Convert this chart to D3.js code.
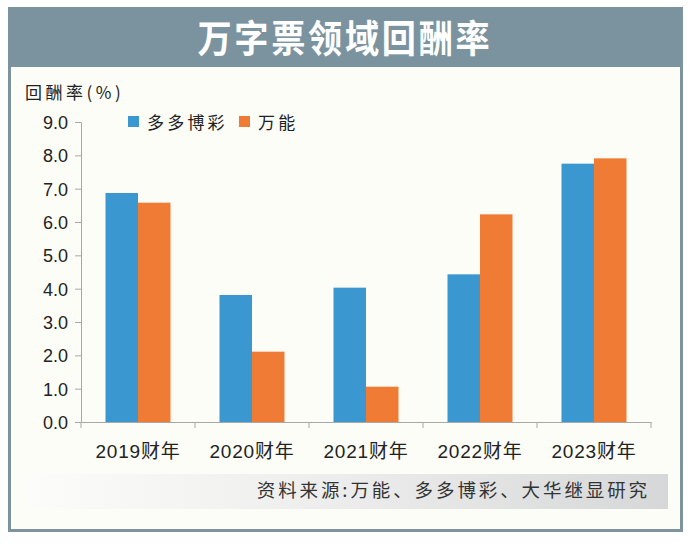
<!DOCTYPE html>
<html>
<head>
<meta charset="utf-8">
<script src="https://cdn.jsdelivr.net/npm/d3@7"></script>
<style>
  html, body { margin: 0; padding: 0; background: #ffffff; }
  svg { display: block; }
</style>
</head>
<body>
<svg id="chart" width="690" height="544"></svg>
<script>
const categories = ["2019财年", "2020财年", "2021财年", "2022财年", "2023财年"];
const seriesNames = ["多多博彩", "万能"];
const duoduo = [6.87, 3.81, 4.03, 4.43, 7.75];
const magnum = [6.58, 2.11, 1.06, 6.23, 7.91];
const yTicks = [0, 1, 2, 3, 4, 5, 6, 7, 8, 9];
const titleText = "万字票领域回酬率";
const yTitle = "回酬率(%)";
const sourceText = "资料来源:万能、多多博彩、大华继显研究";

const colors = ["#3a97d0", "#f07b35"];
const values = [duoduo, magnum];
const fontLatin = "'Liberation Sans', Arial, 'Noto Sans CJK SC', sans-serif";
const fontCJK = "'Noto Sans CJK SC', sans-serif";

const svg = d3.select("#chart");

// frame
svg.append("rect").attr("x", 9.5).attr("y", 8.5).attr("width", 672).attr("height", 522)
  .attr("fill", "#fdfdf8").attr("stroke", "#7d939d").attr("stroke-width", 3);
svg.append("rect").attr("x", 8).attr("y", 7).attr("width", 675).attr("height", 60)
  .attr("fill", "#7b939e");
svg.append("text").attr("transform", "translate(345,52) scale(0.9,1)").attr("text-anchor", "middle")
  .attr("font-family", fontCJK).attr("font-weight", "bold").attr("font-size", 38)
  .attr("letter-spacing", 3)
  .attr("fill", "#ffffff").text(titleText);

// source box
const defs = svg.append("defs");
const grad = defs.append("linearGradient").attr("id", "srcgrad").attr("x1", "0").attr("x2", "1");
grad.append("stop").attr("offset", "0").attr("stop-color", "#fcfcfa");
grad.append("stop").attr("offset", "0.5").attr("stop-color", "#ececec");
grad.append("stop").attr("offset", "1").attr("stop-color", "#d6d7d8");
svg.append("rect").attr("x", 27).attr("y", 474).attr("width", 641).attr("height", 35)
  .attr("fill", "url(#srcgrad)");
svg.append("text").attr("x", 650).attr("y", 497).attr("text-anchor", "end")
  .attr("font-family", fontCJK).attr("font-weight", 400).attr("font-size", 18.5)
  .attr("letter-spacing", 2.9).attr("fill", "#333").text(sourceText);

// scales
const x = d3.scaleBand().domain(categories).range([81, 651]).paddingInner(0).paddingOuter(0);
const x1 = d3.scaleBand().domain(seriesNames).range([0, x.bandwidth()]).paddingInner(0).paddingOuter(0.754);
const y = d3.scaleLinear().domain([0, 9]).range([422, 122]);

// bars
const groups = svg.append("g").selectAll("g").data(categories).join("g")
  .attr("transform", d => `translate(${x(d)},0)`);
groups.selectAll("rect")
  .data((d, i) => seriesNames.map((s, j) => ({ s, v: values[j][i], j })))
  .join("rect")
  .attr("x", d => x1(d.s))
  .attr("width", x1.bandwidth())
  .attr("y", d => y(d.v))
  .attr("height", d => y(0) - y(d.v))
  .attr("fill", d => colors[d.j]);

// y axis
const yAxis = svg.append("g").attr("transform", "translate(81,0)")
  .call(d3.axisLeft(y).tickValues(yTicks).tickFormat(d3.format(".1f")).tickSize(6).tickPadding(7));
yAxis.select(".domain").attr("stroke", "#a8a8a8");
yAxis.selectAll(".tick line").attr("stroke", "#a8a8a8");
yAxis.selectAll(".tick text").attr("font-family", fontLatin).attr("font-size", 18)
  .attr("fill", "#222").attr("dy", "0.36em");

// x axis: boundary ticks, centered labels
const xAxis = svg.append("g").attr("transform", `translate(0,${y(0)})`)
  .call(d3.axisBottom(x).tickSize(0).tickPadding(30));
xAxis.select(".domain").attr("stroke", "#a8a8a8");
xAxis.selectAll(".tick text").attr("font-family", fontLatin).attr("font-size", 19)
  .attr("fill", "#222").attr("dy", "0.3em").attr("letter-spacing", 0.8);
const bounds = categories.map(c => x(c)).concat([x.range()[1]]);
xAxis.selectAll("line.bt").data(bounds).join("line").attr("class", "bt")
  .attr("x1", d => d).attr("x2", d => d).attr("y1", 0).attr("y2", 6)
  .attr("stroke", "#a8a8a8");

// y title
svg.append("text").attr("x", 25).attr("y", 99)
  .attr("font-family", fontCJK).attr("font-size", 17).attr("letter-spacing", 3.5)
  .attr("fill", "#222").text(yTitle);

// legend
const legX = [128, 239];
const legend = svg.append("g").selectAll("g").data(seriesNames).join("g")
  .attr("transform", (d, i) => `translate(${legX[i]},116)`);
legend.append("rect").attr("width", 11).attr("height", 11).attr("fill", (d, i) => colors[i]);
legend.append("text").attr("x", 19).attr("y", 13)
  .attr("font-family", fontCJK).attr("font-size", 17).attr("letter-spacing", 3.2)
  .attr("fill", "#222").text(d => d);
</script>
</body>
</html>
